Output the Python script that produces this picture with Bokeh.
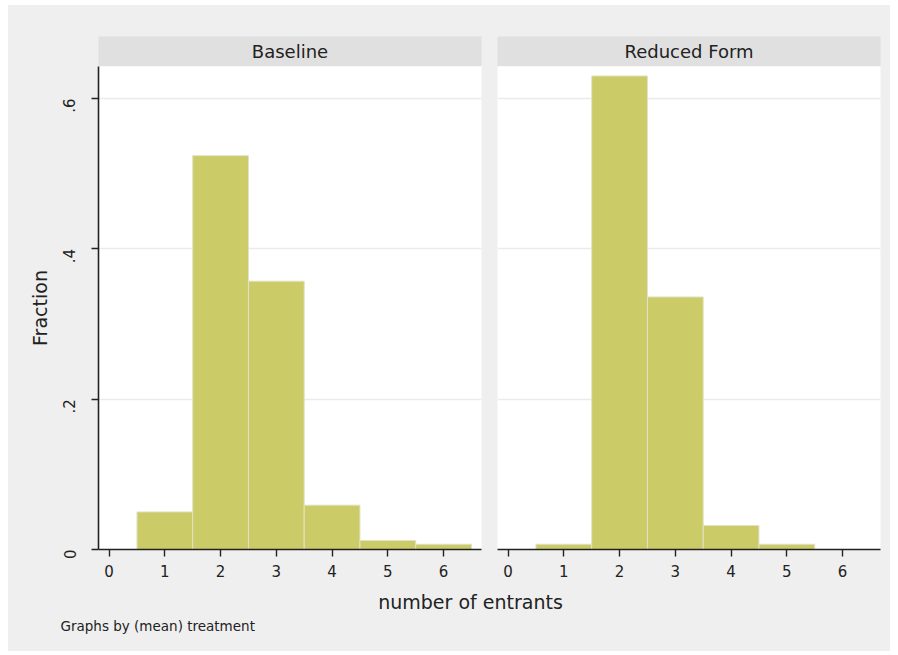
import math

from bokeh.core.properties import value
from bokeh.embed import file_html
from bokeh.layouts import column, row
from bokeh.models import ColumnDataSource, FixedTicker, Grid, Label, Range1d
from bokeh.plotting import figure
from bokeh.resources import INLINE

# ---- data -------------------------------------------------------------
entrants = [1, 2, 3, 4, 5, 6]
baseline_frac = [0.050, 0.524, 0.357, 0.059, 0.012, 0.007]
reduced_frac = [0.007, 0.630, 0.336, 0.032, 0.007, 0.0]

panel_titles = ["Baseline", "Reduced Form"]
x_ticks = [0, 1, 2, 3, 4, 5, 6]
y_ticks = [0.0, 0.2, 0.4, 0.6]
y_tick_labels = ["0", ".2", ".4", ".6"]
x_title = "number of entrants"
y_title = "Fraction"
note = "Graphs by (mean) treatment"

# ---- style ------------------------------------------------------------
FONT = "DejaVu Sans"
BG = "#efefef"
STRIP = "#e0e0e0"
BAR = "#cbcb68"
BAR_EDGE = "#e2e2c6"
GRID = "#ebebeb"
INK = "#222222"

X_RANGE = (-0.19, 6.68)
Y_RANGE = (0.0, 0.6426)


def make_strip(label, width, left, right):
    p = figure(width=width, height=61, x_range=Range1d(0, 1), y_range=Range1d(0, 1),
               x_axis_location=None, y_axis_location=None,
               toolbar_location=None, output_backend="svg",
               min_border_left=left, min_border_right=right,
               min_border_top=31, min_border_bottom=0)
    p.grid.visible = False
    p.background_fill_color = STRIP
    p.border_fill_color = BG
    p.outline_line_color = None
    p.text(x=[0.5], y=[0.5], text=[label], text_align="center", text_baseline="middle",
           text_font=value(FONT), text_font_size="18px", text_color=INK)
    return p


def make_panel(fracs, width, left, right, show_y):
    p = figure(width=width, height=519,
               x_range=Range1d(*X_RANGE), y_range=Range1d(*Y_RANGE),
               y_axis_location="left" if show_y else None,
               toolbar_location=None, output_backend="svg",
               min_border_left=left, min_border_right=right,
               min_border_top=0, min_border_bottom=36)
    p.background_fill_color = "white"
    p.border_fill_color = BG
    p.outline_line_color = None
    p.grid.visible = False
    p.add_layout(Grid(dimension=1, ticker=FixedTicker(ticks=y_ticks[1:]),
                      grid_line_color=GRID, grid_line_width=1.5))

    keep = [i for i, f in enumerate(fracs) if f > 0]
    src = ColumnDataSource(data=dict(
        left=[entrants[i] - 0.5 for i in keep],
        right=[entrants[i] + 0.5 for i in keep],
        top=[fracs[i] for i in keep],
    ))
    p.quad(left="left", right="right", bottom=0, top="top", source=src,
           fill_color=BAR, line_color=BAR_EDGE, line_width=1)

    xa = p.xaxis[0]
    xa.ticker = FixedTicker(ticks=x_ticks)
    xa.axis_line_color = INK
    xa.axis_line_width = 1.6
    xa.major_tick_line_color = INK
    xa.major_tick_line_width = 1.4
    xa.major_tick_out = 7
    xa.major_tick_in = 0
    xa.minor_tick_line_color = None
    xa.major_label_standoff = 8
    xa.major_label_text_font = FONT
    xa.major_label_text_font_size = "15px"
    xa.major_label_text_color = INK

    if show_y:
        ya = p.yaxis[0]
        ya.ticker = FixedTicker(ticks=y_ticks)
        ya.major_label_overrides = dict(zip(y_ticks, y_tick_labels))
        ya.major_label_orientation = math.pi / 2
        ya.axis_line_color = INK
        ya.axis_line_width = 1.6
        ya.major_tick_line_color = INK
        ya.major_tick_line_width = 1.4
        ya.major_tick_out = 7
        ya.major_tick_in = 0
        ya.minor_tick_line_color = None
        ya.major_label_standoff = 22
        ya.major_label_text_font = FONT
        ya.major_label_text_font_size = "15px"
        ya.major_label_text_color = INK
        ya.axis_label = y_title
        ya.axis_label_text_font = FONT
        ya.axis_label_text_font_size = "19px"
        ya.axis_label_text_font_style = "normal"
        ya.axis_label_text_color = INK
        ya.axis_label_standoff = 4
    return p


strip_l = make_strip(panel_titles[0], 482, 90, 7)
panel_l = make_panel(baseline_frac, 482, 90, 9, True)
strip_r = make_strip(panel_titles[1], 400, 7, 8)
panel_r = make_panel(reduced_frac, 400, 7, 10, False)

# footer carrying the shared x title and the by-variable note
footer = figure(width=882, height=66, x_range=Range1d(0, 882), y_range=Range1d(0, 66),
                x_axis_location=None, y_axis_location=None,
                toolbar_location=None, output_backend="svg",
                min_border_left=0, min_border_right=0, min_border_top=0, min_border_bottom=0)
footer.grid.visible = False
footer.background_fill_color = BG
footer.border_fill_color = BG
footer.outline_line_color = None
footer.add_layout(Label(x=462, y=50, text=x_title, text_align="center", text_baseline="middle",
                        text_font=FONT, text_font_size="19px", text_color=INK))
footer.add_layout(Label(x=52, y=26, text=note, text_align="left", text_baseline="middle",
                        text_font=FONT, text_font_size="13.5px", text_color=INK))

layout = column(
    row(column(strip_l, panel_l), column(strip_r, panel_r),
        styles={"background-color": BG}),
    footer,
    margin=(5, 8, 4, 8),
    styles={"background-color": BG},
)

open("out.html", "w").write(file_html(layout, INLINE))
